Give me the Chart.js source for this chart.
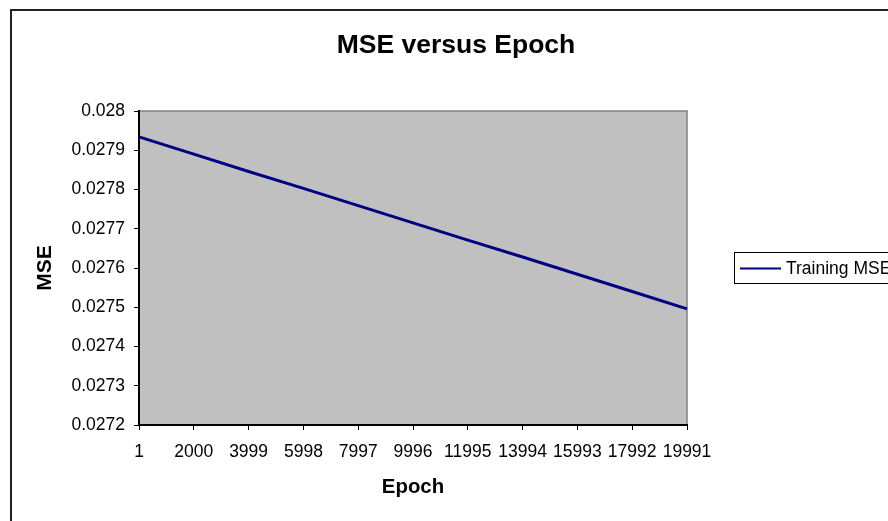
<!DOCTYPE html>
<html><head><meta charset="utf-8">
<script src="https://cdn.jsdelivr.net/npm/chart.js@4"></script>
<style>html,body{margin:0;padding:0;background:#fff;overflow:hidden}#wrap{width:888px;height:521px;position:relative}</style>
</head><body><div id="wrap"><canvas id="c" width="888" height="521"></canvas></div>
<script>
const chartTitle = 'MSE versus Epoch';
const xAxisTitle = 'Epoch';
const yAxisTitle = 'MSE';
const seriesName = 'Training MSE';
const epochs = ['1','2000','3999','5998','7997','9996','11995','13994','15993','17992','19991'];
const trainingMSE = [0.027934, 0.027890, 0.027846, 0.027803, 0.027759, 0.027715, 0.027671, 0.027628, 0.027584, 0.027540, 0.027496];
const yTickLabels = ['0.0272','0.0273','0.0274','0.0275','0.0276','0.0277','0.0278','0.0279','0.028'];

const FONT = "'Liberation Sans', Arial, sans-serif";

const decor = {
  id: 'decor',
  beforeDraw(chart) {
    const ctx = chart.ctx, a = chart.chartArea;
    ctx.save();
    ctx.fillStyle = '#fff';
    ctx.fillRect(0, 0, chart.width, chart.height);
    // outer chart border
    ctx.strokeStyle = '#222';
    ctx.lineWidth = 2;
    ctx.beginPath();
    ctx.moveTo(11, 530); ctx.lineTo(11, 10); ctx.lineTo(900, 10);
    ctx.stroke();
    // plot area
    ctx.fillStyle = '#C0C0C0';
    ctx.fillRect(a.left, a.top, a.right - a.left, a.bottom - a.top);
    ctx.strokeStyle = '#808080';
    ctx.lineWidth = 1.5;
    ctx.beginPath();
    ctx.moveTo(a.left, a.top); ctx.lineTo(a.right, a.top); ctx.lineTo(a.right, a.bottom);
    ctx.stroke();
    // title
    ctx.fillStyle = '#000';
    ctx.font = "bold 26.5px " + FONT;
    ctx.textAlign = 'center';
    ctx.textBaseline = 'alphabetic';
    ctx.fillText(chartTitle, 456, 53);
    ctx.restore();
  },
  afterDraw(chart) {
    const ctx = chart.ctx;
    const ds = chart.data.datasets[0];
    ctx.save();
    ctx.strokeStyle = '#000';
    ctx.lineWidth = 1;
    ctx.strokeRect(734.5, 252.5, 200, 31);
    ctx.strokeStyle = ds.borderColor;
    ctx.lineWidth = 2;
    ctx.beginPath();
    ctx.moveTo(740, 268.5); ctx.lineTo(781, 268.5);
    ctx.stroke();
    ctx.fillStyle = '#000';
    ctx.font = "17.5px " + FONT;
    ctx.textAlign = 'left';
    ctx.textBaseline = 'middle';
    ctx.fillText(ds.label, 786, 269);
    ctx.restore();
  }
};

new Chart(document.getElementById('c'), {
  type: 'line',
  data: {
    labels: epochs,
    datasets: [{
      label: seriesName,
      data: trainingMSE,
      borderColor: '#000080',
      borderWidth: 3,
      pointRadius: 0,
      tension: 0,
      fill: false
    }]
  },
  options: {
    responsive: false,
    animation: false,
    devicePixelRatio: 1,
    layout: { padding: { left: 0, top: 111, right: 201, bottom: 0 } },
    plugins: { legend: { display: false }, title: { display: false }, tooltip: { enabled: false } },
    scales: {
      x: {
        type: 'category',
        offset: false,
        afterFit(s) { s.height = 96; },
        grid: { display: true, drawOnChartArea: false, drawTicks: true, tickLength: 5, color: '#000', lineWidth: 1 },
        border: { display: true, color: '#000', width: 2 },
        ticks: { color: '#000', font: { family: FONT, size: 17.5 }, padding: 12, autoSkip: false, maxRotation: 0, minRotation: 0 },
        title: { display: true, text: xAxisTitle, color: '#000', font: { family: FONT, size: 20.4, weight: 'bold' }, padding: { top: 0, bottom: 21 } }
      },
      y: {
        type: 'linear',
        min: 0.0272,
        max: 0.028,
        afterFit(s) { s.width = 139; },
        grid: { display: true, drawOnChartArea: false, drawTicks: true, tickLength: 5, color: '#000', lineWidth: 1 },
        border: { display: true, color: '#000', width: 2 },
        ticks: { stepSize: 0.0001, color: '#000', font: { family: FONT, size: 17.5 }, padding: 9,
          callback: (v, i) => yTickLabels[i] },
        title: { display: true, text: yAxisTitle, color: '#000', font: { family: FONT, size: 21, weight: 'bold' }, padding: { top: 33, bottom: 0 } }
      }
    }
  },
  plugins: [decor]
});
</script>
</body></html>
